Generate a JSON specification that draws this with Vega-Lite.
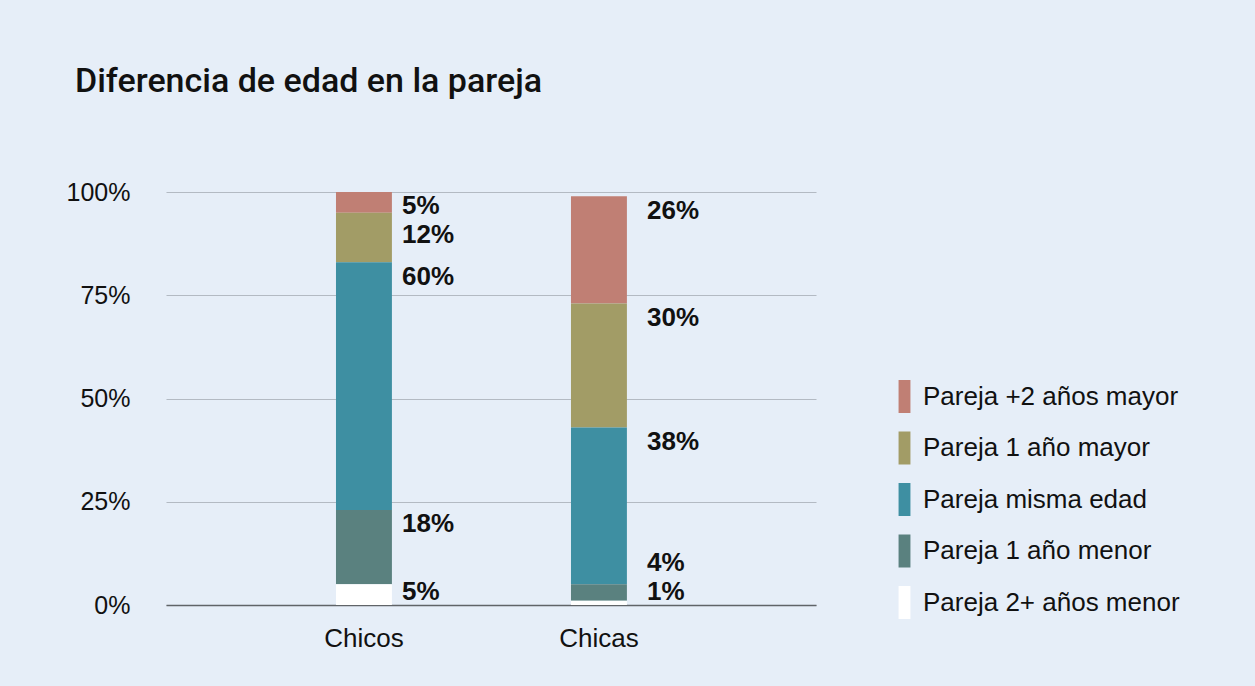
{
  "$schema": "https://vega.github.io/schema/vega-lite/v6.json",
  "width": 650,
  "height": 413,
  "autosize": {"type": "none"},
  "padding": {"left": 166, "top": 192, "right": 439, "bottom": 81},
  "background": "#e6eef8",
  "config": {
    "view": {"stroke": null},
    "font": "Liberation Sans",
    "text": {"font": "Liberation Sans"}
  },
  "title": {
    "text": "Diferencia de edad en la pareja",
    "anchor": "start",
    "frame": "group",
    "dx": -91,
    "offset": 54,
    "baseline": "alphabetic",
    "font": "Roboto",
    "fontSize": 34,
    "fontWeight": 500,
    "color": "#111111"
  },
  "data": {
    "values": [
      {"grupo": "Chicos", "categoria": "Pareja +2 años mayor", "k": 1, "v": 5},
      {"grupo": "Chicos", "categoria": "Pareja 1 año mayor", "k": 2, "v": 12},
      {"grupo": "Chicos", "categoria": "Pareja misma edad", "k": 3, "v": 60},
      {"grupo": "Chicos", "categoria": "Pareja 1 año menor", "k": 4, "v": 18},
      {"grupo": "Chicos", "categoria": "Pareja 2+ años menor", "k": 5, "v": 5},
      {"grupo": "Chicas", "categoria": "Pareja +2 años mayor", "k": 1, "v": 26},
      {"grupo": "Chicas", "categoria": "Pareja 1 año mayor", "k": 2, "v": 30},
      {"grupo": "Chicas", "categoria": "Pareja misma edad", "k": 3, "v": 38},
      {"grupo": "Chicas", "categoria": "Pareja 1 año menor", "k": 4, "v": 4},
      {"grupo": "Chicas", "categoria": "Pareja 2+ años menor", "k": 5, "v": 1}
    ]
  },
  "transform": [
    {"stack": "v", "groupby": ["grupo"], "sort": [{"field": "k", "order": "descending"}], "as": ["v0", "v1"]},
    {"window": [{"op": "row_number", "as": "r"}], "groupby": ["grupo"], "sort": [{"field": "k", "order": "descending"}]},
    {"window": [{"op": "lag", "field": "v1", "as": "prevTop"}], "groupby": ["grupo"], "sort": [{"field": "k", "order": "ascending"}]},
    {"calculate": "max(3.1 + 7 * (datum.r - 1), min(datum.v1 - 3.5, (datum.prevTop == null ? 1000 : datum.prevTop) - 10.5))", "as": "ly"},
    {"calculate": "datum.v + '%'", "as": "etiqueta"}
  ],
  "layer": [
    {
      "mark": {"type": "bar"},
      "encoding": {
        "x": {
          "field": "grupo",
          "type": "nominal",
          "sort": ["Chicos", "Chicas"],
          "scale": {"range": [0, 650], "paddingInner": 0.762, "paddingOuter": 0.764, "align": 0.4734},
          "axis": {
            "title": null,
            "labelAngle": 0,
            "labelFontSize": 26,
            "labelColor": "#111111",
            "labelPadding": 20,
            "ticks": false,
            "domain": true,
            "domainColor": "#606468",
            "domainWidth": 1.5,
            "grid": false
          }
        },
        "y": {
          "field": "v1",
          "type": "quantitative",
          "scale": {"domain": [0, 100]},
          "axis": {
            "title": null,
            "values": [0, 25, 50, 75, 100],
            "labelExpr": "datum.value + '%'",
            "labelFontSize": 25,
            "labelColor": "#111111",
            "labelPadding": 36,
            "ticks": false,
            "domain": false,
            "grid": true,
            "gridColor": "#b3bac3",
            "gridWidth": 1
          }
        },
        "y2": {"field": "v0"},
        "color": {
          "field": "categoria",
          "type": "nominal",
          "scale": {
            "domain": ["Pareja +2 años mayor", "Pareja 1 año mayor", "Pareja misma edad", "Pareja 1 año menor", "Pareja 2+ años menor"],
            "range": ["#c07f74", "#a29c66", "#3e8fa2", "#5a817f", "#ffffff"]
          },
          "legend": {
            "title": null,
            "orient": "none",
            "legendX": 722,
            "legendY": 188,
            "padding": 0,
            "symbolType": "M-0.36,-1H0.36V1H-0.36Z",
            "symbolSize": 1089,
            "symbolStrokeWidth": 0,
            "symbolOpacity": 1,
            "labelFontSize": 26,
            "labelColor": "#111111",
            "labelOffset": 2,
            "rowPadding": 18.5,
            "labelLimit": 400
          }
        }
      }
    },
    {
      "mark": {"type": "text", "align": "left", "baseline": "middle", "fontWeight": "bold", "fontSize": 26, "color": "#111111"},
      "encoding": {
        "x": {
          "field": "grupo",
          "type": "nominal",
          "sort": ["Chicos", "Chicas"],
          "scale": {"range": [113.5, 603.5], "paddingInner": 0, "paddingOuter": 0},
          "axis": null
        },
        "y": {"field": "ly", "type": "quantitative"},
        "text": {"field": "etiqueta", "type": "nominal"}
      }
    }
  ],
  "resolve": {"scale": {"x": "independent"}}
}
